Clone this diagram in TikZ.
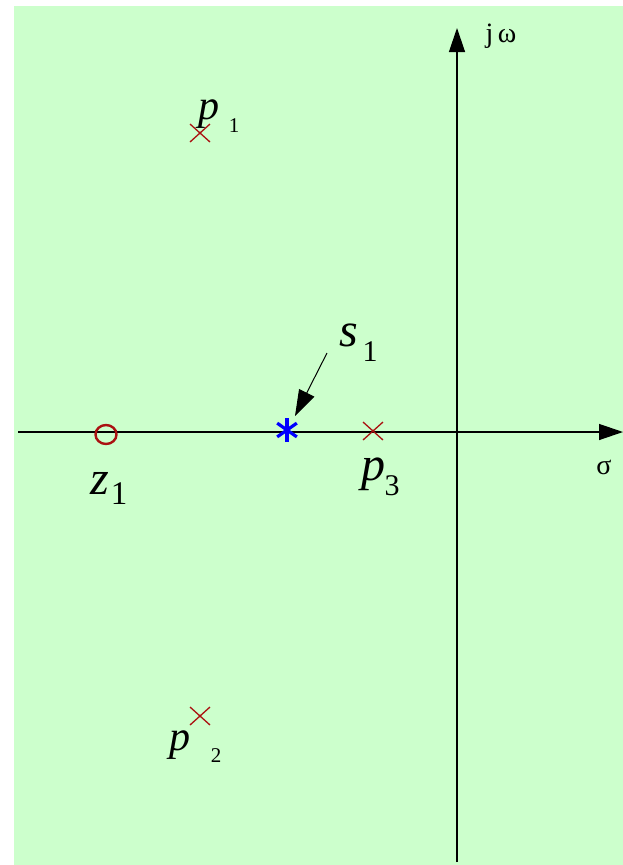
\documentclass[tikz,border=0pt]{standalone}
\usepackage{fontspec}
\setmainfont{Liberation Serif}
\usetikzlibrary{arrows.meta,calc,shapes.geometric}
\definecolor{bggreen}{HTML}{CCFFCC}
\definecolor{pole}{HTML}{AA1111}
\tikzset{
  axis/.style={line width=1.3pt,-{Triangle[length=24pt,width=16pt]}},
  polemark/.style={draw=pole,line width=1.3pt},
  lbl/.style={inner sep=0pt,font=\fontsize{42}{42}\selectfont\itshape},
  biglbl/.style={inner sep=0pt,font=\fontsize{48}{48}\selectfont\itshape},
  sub/.style={inner sep=0pt,font=\fontsize{21}{21}\selectfont},
  bigsub/.style={inner sep=0pt,font=\fontsize{30}{30}\selectfont},
}
\begin{document}
\begin{tikzpicture}[x=1pt,y=-1pt]
\useasboundingbox (0,0) rectangle (623,865);
\fill[bggreen] (14,6) rectangle (623,865);
% axes
\coordinate (vb) at (457,862);
\coordinate (vt) at (457,28);
\coordinate (hl) at (18,432);
\coordinate (hr) at (623,432);
\draw[axis] (vb) -- (vt);
\draw[axis] (hl) -- (hr);
\node[inner sep=0pt,font=\fontsize{28}{28}\selectfont] (jw) at (501,36) {j\,ω};
\node[inner sep=0pt,font=\fontsize{28}{28}\selectfont] (sig) at (604,467) {σ};
% poles
\coordinate (p1) at (200,133);
\coordinate (p2) at (200,716);
\coordinate (p3) at (373,431);
\foreach \p in {p1,p2,p3}{
  \draw[polemark] ($(\p)+(-10,-9)$) -- ($(\p)+(10,9)$);
  \draw[polemark] ($(\p)+(-10,9)$) -- ($(\p)+(10,-9)$);
}
% zero
\node[draw=pole,line width=2.4pt,ellipse,minimum width=21pt,minimum height=19pt,inner sep=0pt] (z1) at (106,434.5) {};
% s1
\coordinate (s1) at (287,430);
\foreach \a in {90,35,145}{
  \draw[blue,line width=3.2pt] ($(s1)+(\a:12)$) -- ($(s1)+(\a+180:12)$);
}
% labels
\node[lbl] (lp1) at (209,114) {p};
\node[sub] (lp1s) at (234,126) {1};
\node[lbl] (lp2) at (180,745) {p};
\node[sub] (lp2s) at (216,756) {2};
\node[biglbl] (lp3) at (373,474) {p};
\node[bigsub] (lp3s) at (392,486) {3};
\node[biglbl] (ls1) at (349,335) {s};
\node[bigsub] (ls1s) at (370,352) {1};
\node[biglbl] (lz1) at (100,483) {z};
\node[bigsub,font=\fontsize{33}{33}\selectfont] (lz1s) at (119,494) {1};
% arrow to s1
\coordinate (s1a) at (327,353);
\coordinate (s1t) at (295,416);
\draw[line width=1pt,-{Triangle[length=26pt,width=17pt]}] (s1a) -- (s1t);
\end{tikzpicture}
\end{document}
